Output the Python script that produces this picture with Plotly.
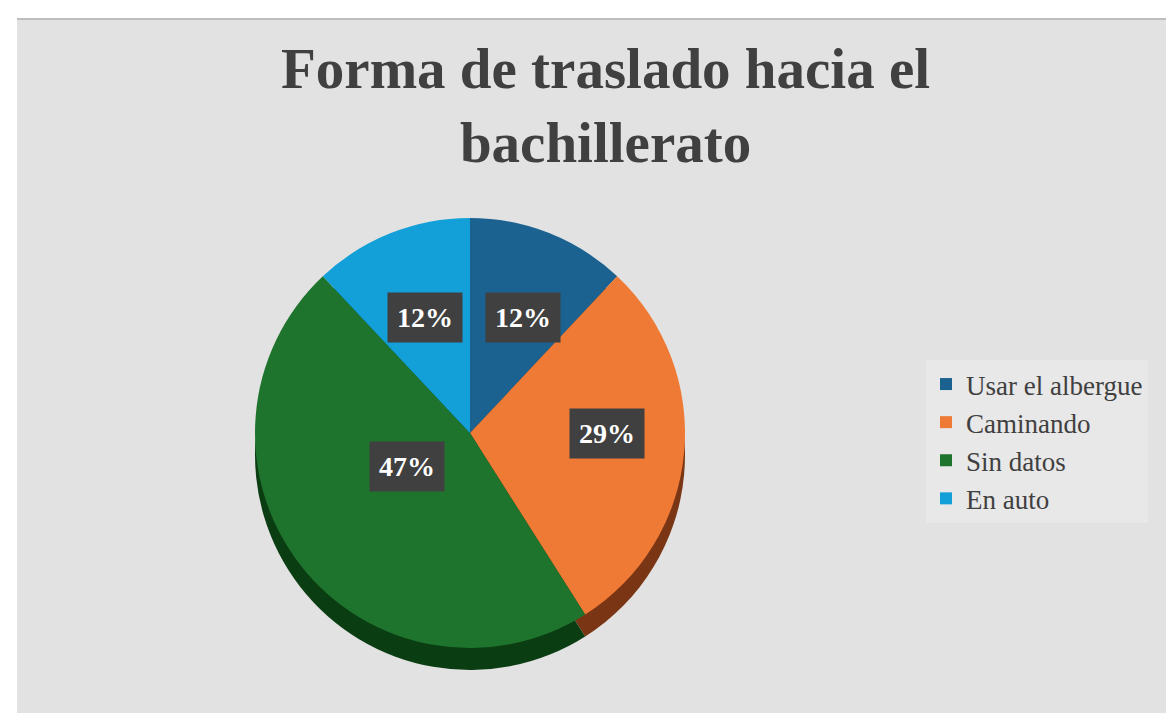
import math
import plotly.graph_objects as go

# ---- data ----
categories = ["Usar el albergue", "Caminando", "Sin datos", "En auto"]
values = [12, 29, 47, 12]
slice_colors = ["#1c6290", "#ef7a35", "#1e742c", "#139fd7"]
side_colors = ["#0f3a57", "#7a3614", "#0b3d13", "#0b5f82"]
title_text = "Forma de traslado hacia el<br>bachillerato"

W, H = 1174, 713
cx_px, cy_px, R = 462, 425, 215
depth = 22

def dom(cx, cy, r):
    return dict(x=[(cx - r) / W, (cx + r) / W],
                y=[1 - (cy + r) / H, 1 - (cy - r) / H])

fig = go.Figure()

# side (depth) of the pie
fig.add_trace(go.Pie(
    labels=categories, values=values, sort=False, direction="clockwise",
    rotation=0, marker=dict(colors=side_colors, line=dict(width=0)),
    textinfo="none", hoverinfo="skip", showlegend=False,
    domain=dom(cx_px, cy_px + depth, R),
))

# top face
fig.add_trace(go.Pie(
    labels=categories, values=values, sort=False, direction="clockwise",
    rotation=0, marker=dict(colors=slice_colors, line=dict(width=0)),
    textinfo="none", showlegend=True,
    domain=dom(cx_px, cy_px, R),
))

# data labels computed from the values
total = sum(values)
cum = 0
annotations = []
for v in values:
    mid = (cum + v / 2) / total * 2 * math.pi
    cum += v
    r = 0.62 * R
    x = (cx_px + 4 + r * math.sin(mid)) / W
    y = 1 - (cy_px - 10 - r * math.cos(mid) * 0.85) / H
    annotations.append(dict(
        x=x, y=y, xref="paper", yref="paper", showarrow=False,
        text="<b>%d%%</b>" % round(v / total * 100),
        font=dict(family="Liberation Serif", size=28, color="white"),
        bgcolor="#404040", borderpad=9,
    ))

shapes = [
    dict(type="rect", xref="paper", yref="paper", x0=9 / W, x1=1, y0=0, y1=1 - 10 / H,
         fillcolor="#e2e2e2", line=dict(width=0), layer="below"),
    dict(type="line", xref="paper", yref="paper", x0=9 / W, x1=1, y0=1 - 11 / H, y1=1 - 11 / H,
         line=dict(color="#bdbdbd", width=2), layer="below"),
]

fig.update_layout(
    width=W, height=H,
    margin=dict(l=0, r=0, t=0, b=0),
    paper_bgcolor="white",
    title=dict(text="<b>" + title_text + "</b>", x=0.509, xanchor="center",
               y=1 - 80 / H, yanchor="top",
               font=dict(family="Liberation Serif", size=57, color="#404040")),
    legend=dict(x=918 / W, y=1 - 352 / H, xanchor="left", yanchor="top",
                bgcolor="#e8e8e8", font=dict(family="Liberation Serif", size=27, color="#404040"),
                itemwidth=30, tracegroupgap=0),
    shapes=shapes,
    annotations=annotations,
)

fig.write_html("out.html")
